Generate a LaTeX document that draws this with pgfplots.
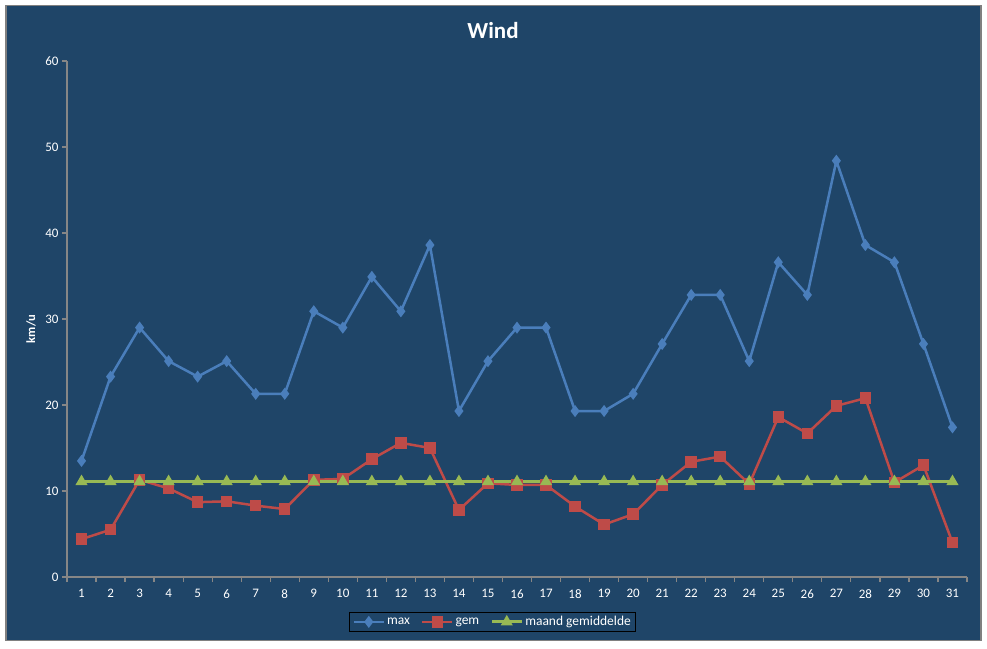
\documentclass[border=0pt]{standalone}
\usepackage{pgfplots}
\pgfplotsset{compat=1.18}
\usepackage{fontspec}
\setmainfont{Carlito}

\definecolor{bg}{RGB}{31,69,104}
\definecolor{frame}{RGB}{128,128,128}
\definecolor{axgray}{RGB}{134,134,134}
\definecolor{cmax}{RGB}{74,126,187}
\definecolor{cgem}{RGB}{190,75,72}
\definecolor{cmaand}{RGB}{152,185,84}

\pgfplotstableread{
dag max gem maand
1 13.5 4.4 11.1
2 23.3 5.5 11.1
3 29.0 11.3 11.1
4 25.1 10.3 11.1
5 23.3 8.7 11.1
6 25.1 8.8 11.1
7 21.3 8.3 11.1
8 21.3 7.9 11.1
9 30.9 11.3 11.1
10 29.0 11.4 11.1
11 34.9 13.7 11.1
12 30.9 15.6 11.1
13 38.6 15.0 11.1
14 19.3 7.8 11.1
15 25.1 10.9 11.1
16 29.0 10.7 11.1
17 29.0 10.7 11.1
18 19.3 8.2 11.1
19 19.3 6.1 11.1
20 21.3 7.3 11.1
21 27.1 10.7 11.1
22 32.8 13.4 11.1
23 32.8 14.0 11.1
24 25.1 10.8 11.1
25 36.6 18.6 11.1
26 32.8 16.7 11.1
27 48.4 19.9 11.1
28 38.6 20.8 11.1
29 36.6 11.0 11.1
30 27.1 13.0 11.1
31 17.4 4.0 11.1
}\wind

\begin{document}
\begin{tikzpicture}
\fill[white] (0pt,0pt) rectangle (987pt,648pt);
\filldraw[fill=bg,draw=frame,line width=1.5pt] (5.75pt,7.75pt) rectangle (981pt,642.25pt);
\node[text=white,font=\fontsize{23}{27}\selectfont\bfseries] at (493pt,617pt) {Wind};
\node[rotate=90,text=white,font=\fontsize{12.5}{14}\selectfont\bfseries] at (31pt,319pt) {km/u};

\begin{axis}[
    at={(67pt,71pt)}, anchor=south west,
    scale only axis, width=900pt, height=516pt,
    xmin=0.5, xmax=31.5, ymin=0, ymax=60,
    xtick={1,...,31}, ytick={0,10,...,60},
    minor xtick={0.5,1.5,...,31.5},
    axis x line*=bottom, axis y line*=left,
    axis line style={draw=axgray, line width=1.5pt, -},
    tick align=outside,
    major tick length=5pt, minor tick length=5pt,
    major x tick style={draw=none},
    minor x tick style={axgray, line width=1.2pt},
    y tick style={axgray, line width=1.2pt},
    tick label style={text=white, font=\fontsize{13}{15}\selectfont},
    xticklabel style={yshift=-4pt},
    /pgf/number format/assume math mode=true,
    legend columns=3,
    legend style={at={(0.473,-0.087)}, anchor=center, draw=black, fill=none,
        text=white, font=\fontsize{13.5}{15}\selectfont, line width=1pt,
        /tikz/every even column/.append style={column sep=9pt}},
    legend image code/.code={\draw[mark repeat=2,mark phase=2,#1]
        plot coordinates {(0pt,0pt) (15pt,0pt) (30pt,0pt)};},
]
\addplot[cmax, line width=2.5pt, mark=diamond*, mark size=4pt,
    mark options={solid, fill=cmax}] table[x=dag, y=max] {\wind};
\addlegendentry{max}
\addplot[cgem, line width=2.5pt, mark=square*, mark size=4.5pt,
    mark options={solid, fill=cgem}] table[x=dag, y=gem] {\wind};
\addlegendentry{gem}
\addplot[cmaand, line width=3pt, mark=triangle*, mark size=4pt,
    mark options={solid, fill=cmaand}] table[x=dag, y=maand] {\wind};
\addlegendentry{maand gemiddelde}
\end{axis}
\end{tikzpicture}
\end{document}
